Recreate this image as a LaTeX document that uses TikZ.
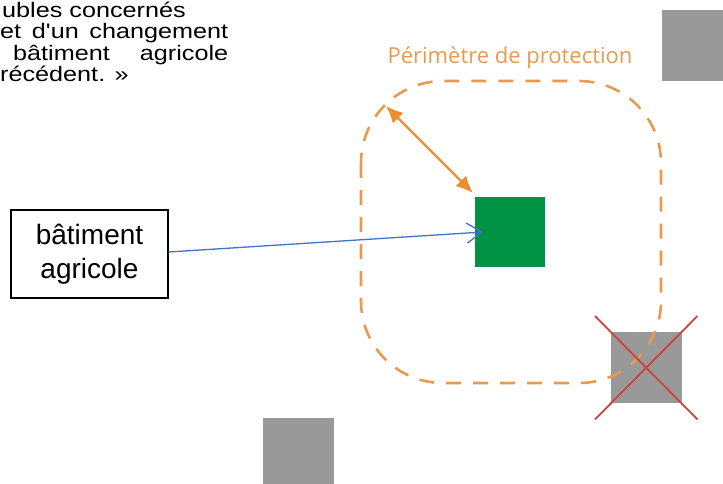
\documentclass[tikz,border=0pt]{standalone}
\usepackage{fontspec}
\setmainfont{Liberation Sans}
\newfontfamily\perimfont{Open Sans}
\newfontfamily\largefont[FakeStretch=1.2]{Liberation Sans}
\usetikzlibrary{arrows.meta}
\usetikzlibrary{positioning}

\definecolor{grisbat}{RGB}{153,153,153}
\definecolor{vertbat}{RGB}{0,146,69}
\definecolor{orangeperim}{RGB}{230,155,80}
\definecolor{orangefleche}{RGB}{238,140,50}
\definecolor{rougecroix}{RGB}{208,64,62}
\definecolor{bleulien}{RGB}{68,114,196}

\begin{document}
\begin{tikzpicture}
	[
	x=1pt, y=-1pt,
	texte/.style = {anchor=base west, inner sep=0pt, text height=14pt, text depth=3pt, font=\largefont\fontsize{21}{24}\selectfont},
	carre/.style = {fill=grisbat, inner sep=0pt, minimum size=71pt, anchor=north west},
	perimetre/.style = {draw=orangeperim, line width=2.6pt, dash pattern=on 15pt off 12pt, rounded corners=82pt},
	croix/.style = {draw=rougecroix, line width=1.8pt},
	etiquette/.style = {draw, line width=1.2pt, align=center, inner sep=0pt, minimum width=157pt, minimum height=88pt, font=\fontsize{28}{34}\selectfont}
	]
	\useasboundingbox (0,0) rectangle (723,483);

	% texte coupe en haut a gauche
	\node[texte] (l1) at (2,17) {ubles concern\'es};
	\node[texte] (l2) at (0,38.5) {\makebox[228pt][s]{et d'un changement}};
	\node[texte] (l3) at (13,60) {\makebox[215pt][s]{b\^atiment agricole}};
	\node[texte] (l4) at (0,81.5) {r\'ec\'edent. \guillemotright};

	% batiments
	\node[carre] (bat1) at (662,10) {};
	\node[carre] (bat2) at (263,418) {};
	\node[carre] (bat3) at (611,332) {};
	\node[carre, fill=vertbat, minimum size=70pt] (ferme) at (475,197) {};

	% perimetre
	\draw[perimetre] (361,81) rectangle (661,383);
	\node[font=\perimfont\fontsize{22}{26}\selectfont, text=orangeperim, inner sep=0pt] (titre) at (510,58) {P\'erim\`etre de protection};
	\coordinate (coin) at (386,106);
	\draw[orangefleche, line width=2.4pt, {Latex[length=17pt,width=15pt]}-{Latex[length=17pt,width=15pt]}] (coin) -- ([shift={(-2pt,4pt)}]ferme.north west);

	% batiment supprime
	\draw[croix] ([shift={(-16pt,16pt)}]bat3.north west) -- ([shift={(15pt,-16pt)}]bat3.south east);
	\draw[croix] ([shift={(15pt,16pt)}]bat3.north east) -- ([shift={(-16pt,-16pt)}]bat3.south west);

	% legende
	\node[etiquette] (legende) at (89.5,254) {b\^atiment\\agricole};
	\draw[bleulien, line width=1.3pt, -{Straight Barb[length=15pt,width=20pt]}] (legende.east) ++(0,-2) -- ([xshift=8pt]ferme.west |- 0,232);
\end{tikzpicture}
\end{document}
